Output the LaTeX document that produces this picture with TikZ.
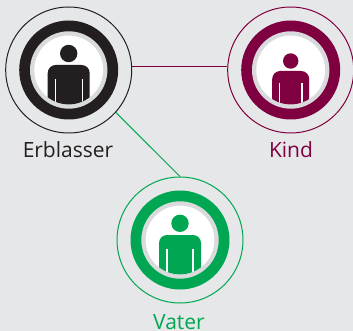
\documentclass[tikz,border=0pt]{standalone}
\usepackage{fontspec}
\setmainfont{Open Sans}
\definecolor{bgc}{HTML}{E6E7E9}
\definecolor{blk}{HTML}{231F20}
\definecolor{pur}{HTML}{7F0040}
\definecolor{grn}{HTML}{00A651}
\definecolor{gry}{HTML}{D9DADC}
\tikzset{
  outerc/.style={circle,draw=#1,line width=1pt,minimum size=126pt,inner sep=0pt},
  lbl/.style={font=\fontsize{21}{25}\selectfont,text=#1,inner sep=0pt,anchor=base},
  link/.style={draw=#1,line width=1pt}
}
% center x, center y, colour, head dy, head r, half body width, body top, slit dx, slit top
\newcommand{\personicon}[9]{%
  \fill[#3] (#1,#2) circle[radius=49.5];
  \fill[gry] (#1,#2) circle[radius=38.7];
  \fill[white] (#1,#2) circle[radius=34.4];
  \begin{scope}
    \clip (#1,#2) circle[radius=34.4];
    \fill[#3] (#1,#2+#4) circle[radius=#5];
    \fill[#3,rounded corners=8pt] (#1-#6,#2+40) -- (#1-#6,#2+#7) -- (#1+#6,#2+#7) -- (#1+#6,#2+40) -- cycle;
    \fill[white] (#1-#8-0.6,#2+#9) rectangle (#1-#8+0.6,#2+40);
    \fill[white] (#1+#8-0.6,#2+#9) rectangle (#1+#8+0.6,#2+40);
  \end{scope}
}
\begin{document}
\begin{tikzpicture}[x=1pt,y=-1pt]
\useasboundingbox (0,0) rectangle (353,331);
\fill[bgc] (0,0) rectangle (353,331);
\node[outerc=blk] (erb) at (68.7,70) {};
\node[outerc=pur] (kind) at (290.7,70) {};
\node[outerc=grn] (vat) at (180,240) {};
\draw[link=pur] (erb.3.6) -- (kind.176.4 |- erb.3.6);
\draw[link=grn] (erb.-42) -- (vat.north);
\personicon{68.7}{70}{blk}{-16.5}{8.7}{21}{-5}{13.5}{9}
\personicon{290.7}{70}{pur}{-9}{7.7}{18.5}{1}{11.2}{13}
\personicon{180}{240}{grn}{-16.7}{8.7}{21}{-5}{13}{9}
\node[lbl=blk] (t1) at (68,157.5) {Erblasser};
\node[lbl=pur] (t2) at (291,157.5) {Kind};
\node[lbl=grn] (t3) at (179,329) {Vater};
\end{tikzpicture}
\end{document}
